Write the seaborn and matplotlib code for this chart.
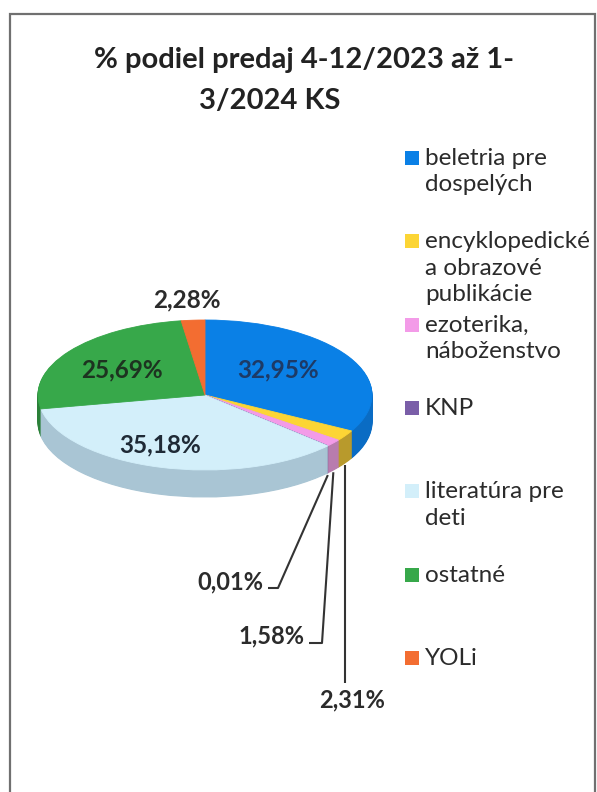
import numpy as np
import matplotlib.pyplot as plt
from matplotlib.patches import Rectangle
import seaborn as sns

# data
categories = ['beletria pre\ndospelých', 'encyklopedické\na obrazové\npublikácie',
              'ezoterika,\nnáboženstvo', 'KNP', 'literatúra pre\ndeti', 'ostatné', 'YOLi']
shares = [32.95, 2.31, 1.58, 0.01, 35.18, 25.69, 2.28]
title_lines = ['% podiel predaj 4-12/2023 až 1-', '3/2024 KS']

top_colors = ['#0a80e6', '#fcd535', '#f39be8', '#7a5ea8', '#d3effa', '#37a84a', '#f36d31']
side_colors = ['#0a6cc4', '#b89a2c', '#b87cae', '#5e4785', '#a9c5d4', '#2a8038', '#c85526']
label_colors = ['#1d3a66', '#2b2b2b', '#2b2b2b', '#2b2b2b', '#1f2a36', '#1d3320', '#2b2b2b']

W, H = 597, 792
CX, CY, RX, RY, DEPTH = 205, 395, 167, 75, 27

sns.set_theme(style='white')
plt.rcParams['font.family'] = ['Lato', 'DejaVu Sans']


def to_data(px, py):
    return (px - CX) / RX, (CY - py) / RY


def fx(px):
    return px / W


def fy(py):
    return 1 - py / H


def pct(v):
    return f'{v:.2f}'.replace('.', ',') + '%'


fig = plt.figure(figsize=(W / 100, H / 100), dpi=100)
ax = fig.add_axes([0, 0, 1, 1])

# side wall of the 3d pie: stacked copies, darker
depth = DEPTH / RY
for k in np.linspace(depth, 0, DEPTH + 1)[:-1]:
    sw, _ = ax.pie(shares, colors=side_colors, startangle=90, counterclock=False,
                   center=(0, -k), wedgeprops={'linewidth': 0.8})
    for w in sw:
        w.set_edgecolor(w.get_facecolor())

wedges, _ = ax.pie(shares, colors=top_colors, startangle=90, counterclock=False,
                   wedgeprops={'linewidth': 0.6})
for w in wedges:
    w.set_edgecolor(w.get_facecolor())

ax.set_aspect('auto')
ax.set_xlim(-CX / RX, (W - CX) / RX)
ax.set_ylim(-(H - CY) / RY, CY / RY)
ax.axis('off')

# labels sitting on / above the pie
inside_pos = {0: (278, 370), 4: (160, 445), 5: (122, 370), 6: (187, 300)}
for i, (px, py) in inside_pos.items():
    x, y = to_data(px, py)
    ax.text(x, y, pct(shares[i]), ha='center', va='center', fontsize=17.5,
            fontweight='bold', color=label_colors[i])

# small slices with leader lines
leaders = {
    3: dict(text=(263, 582), ha='right', path=[(278, 588), (268, 588)]),
    2: dict(text=(304, 636), ha='right', path=[(322, 643), (309, 643)]),
    1: dict(text=(352, 700), ha='center', path=[None]),
}
for i, spec in leaders.items():
    w = wedges[i]
    mid = np.deg2rad((w.theta1 + w.theta2) / 2)
    ax0, ay0 = np.cos(mid), np.sin(mid) - depth - 0.03
    xs, ys = [ax0], [ay0]
    for p in spec['path']:
        if p is None:
            xs.append(ax0)
            ys.append(to_data(0, 683)[1])
        else:
            x, y = to_data(*p)
            xs.append(x)
            ys.append(y)
    ax.plot(xs, ys, color='#333333', lw=1.5, solid_capstyle='butt')
    tx, ty = to_data(*spec['text'])
    ax.text(tx, ty, pct(shares[i]), ha=spec['ha'], va='center', fontsize=17,
            fontweight='bold', color='#2b2b2b')

# title
fig.text(fx(304), fy(60), title_lines[0], ha='center', va='center',
         fontsize=21, fontweight='bold', color='#222222')
fig.text(fx(270), fy(101), title_lines[1], ha='center', va='center',
         fontsize=21, fontweight='bold', color='#222222')

# legend, evenly spaced like excel does
for i, (name, col) in enumerate(zip(categories, top_colors)):
    py = 158 + i * 83.3
    fig.patches.append(Rectangle((fx(405), fy(py + 7)), 14 / W, 14 / H,
                                 transform=fig.transFigure, facecolor=col,
                                 edgecolor='none'))
    fig.text(fx(425), fy(py - 10), name, ha='left', va='top', fontsize=17.5,
             color='#2b2b2b', linespacing=1.32)

# chart frame
fig.patches.append(Rectangle((fx(10), fy(820)), 585 / W, 806 / H,
                             transform=fig.transFigure, fill=False,
                             edgecolor='#707070', lw=1.6))

fig.savefig('out.png', dpi=100)
